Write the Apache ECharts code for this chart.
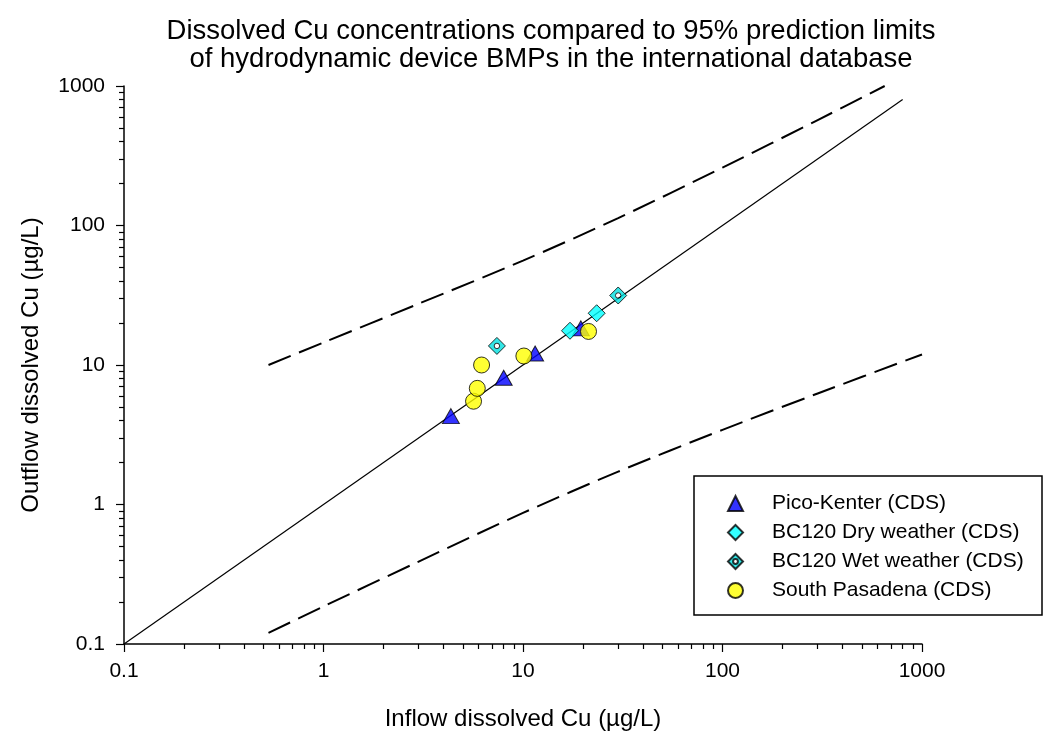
<!DOCTYPE html>
<html>
<head>
<meta charset="utf-8">
<script src="https://cdn.jsdelivr.net/npm/echarts@6/dist/echarts.min.js"></script>
<style>
  html, body { margin: 0; padding: 0; background: #ffffff; }
  #chart { width: 1050px; height: 738px; }
</style>
</head>
<body>
<div id="chart"></div>
<script>
// Title, axis names and tick labels
const titleLines = [
  'Dissolved Cu concentrations compared to 95% prediction limits',
  'of hydrodynamic device BMPs in the international database'
];
const xName = 'Inflow dissolved Cu (\u00b5g/L)';
const yName = 'Outflow dissolved Cu (\u00b5g/L)';
const majorTicks = [0.1, 1, 10, 100, 1000];
const tickLabels = ['0.1', '1', '10', '100', '1000'];

// Series names (legend order)
const seriesNames = [
  'Pico-Kenter (CDS)',
  'BC120 Dry weather (CDS)',
  'BC120 Wet weather (CDS)',
  'South Pasadena (CDS)'
];

// [inflow, outflow] dissolved Cu, ug/L
const picoKenter = [[4.35, 4.3], [8.0, 8.1], [11.5, 12.1], [19.5, 18.3]];
const bc120Dry = [[17.2, 17.6], [23.4, 23.5]];
const bc120Wet = [[7.4, 13.7], [30, 31.5]];
const southPasadena = [[5.65, 5.5], [5.9, 6.8], [6.2, 10.0], [10.1, 11.6], [21.3, 17.4]];

// Line of equality and 95% prediction limits
const equalityLine = [[0.1, 0.1], [800, 800]];
const upperLimit = [[0.53, 10], [1, 14.5], [3, 27.5], [10, 56], [30, 113], [100, 260], [300, 570], [650, 1000]];
const lowerLimit = [[0.53, 0.12], [1, 0.186], [3, 0.39], [10, 0.87], [30, 1.72], [100, 3.43], [300, 6.25], [1000, 11.9]];

const AXIS_MIN = 0.1;
const AXIS_MAX = 1000;
const FONT = "'Liberation Sans', Arial, Helvetica, sans-serif";
const wetSymbol = 'path://M10 0 L20 10 L10 20 L0 10 Z M10 6.8 A3.2 3.2 0 1 0 10 13.2 A3.2 3.2 0 1 0 10 6.8 Z';

function makeAxis(isX) {
  return {
    type: 'log',
    logBase: 10,
    min: AXIS_MIN,
    max: AXIS_MAX,
    splitLine: { show: false },
    axisLine: { show: true, lineStyle: { color: '#000', width: 1.5 } },
    axisTick: { show: true, length: 8, lineStyle: { color: '#000', width: 1.2 } },
    // 2..9 within each decade
    minorTick: { show: true, splitNumber: 9, length: 5, lineStyle: { color: '#000', width: 1.2 } },
    axisLabel: {
      show: true, color: '#000', fontSize: 21, fontFamily: FONT,
      margin: isX ? 17 : 19,
      formatter: function (v) {
        const i = majorTicks.findIndex(function (t) { return Math.abs(Math.log10(t) - Math.log10(v)) < 1e-6; });
        return i >= 0 ? tickLabels[i] : '';
      }
    },
    name: isX ? xName : yName,
    nameLocation: 'middle',
    nameGap: isX ? 63 : 81,
    nameTextStyle: { color: '#000', fontSize: 24, fontFamily: FONT }
  };
}

const chart = echarts.init(document.getElementById('chart'));

chart.setOption({
  animation: false,
  title: {
    text: titleLines.join('\n'),
    left: 546,
    top: 12,
    textAlign: 'center',
    textStyle: { color: '#000', fontSize: 27.5, fontWeight: 'normal', fontFamily: FONT, lineHeight: 28 }
  },
  grid: { left: 124, right: 128, top: 86, bottom: 94 },
  xAxis: makeAxis(true),
  yAxis: makeAxis(false),
  graphic: [{
    type: 'rect',
    z: 3,
    shape: { x: 694, y: 476, width: 348, height: 139 },
    style: { fill: '#ffffff', stroke: '#000000', lineWidth: 1.5 }
  }],
  legend: {
    data: seriesNames,
    orient: 'vertical',
    left: 727,
    top: 493,
    z: 5,
    padding: 0,
    itemWidth: 15,
    itemHeight: 15,
    itemGap: 8,
    textStyle: { color: '#000', fontSize: 21, fontFamily: FONT, lineHeight: 20, padding: [0, 0, 0, 24] }
  },
  series: [
    {
      name: 'equality', type: 'line', data: equalityLine, symbol: 'none',
      lineStyle: { color: '#000', width: 1.2 }, z: 1, silent: true
    },
    {
      name: 'upper limit', type: 'line', data: upperLimit, symbol: 'none', smooth: 0.3,
      lineStyle: { color: '#000', width: 2, type: [24, 9] }, z: 1, silent: true
    },
    {
      name: 'lower limit', type: 'line', data: lowerLimit, symbol: 'none', smooth: 0.3,
      lineStyle: { color: '#000', width: 2, type: [24, 9] }, z: 1, silent: true
    },
    {
      name: seriesNames[0], type: 'scatter', data: picoKenter,
      symbol: 'triangle', symbolSize: [17, 15],
      itemStyle: { color: '#0000ff', borderColor: '#000', borderWidth: 1 }, z: 2
    },
    {
      name: seriesNames[1], type: 'scatter', data: bc120Dry,
      symbol: 'diamond', symbolSize: 17,
      itemStyle: { color: '#00ffff', borderColor: '#000', borderWidth: 1 }, z: 2
    },
    {
      name: seriesNames[2], type: 'scatter', data: bc120Wet,
      symbol: wetSymbol, symbolSize: 17,
      itemStyle: { color: '#00e0e0', borderColor: '#000', borderWidth: 1 }, z: 2
    },
    {
      name: seriesNames[3], type: 'scatter', data: southPasadena,
      symbol: 'circle', symbolSize: 16,
      itemStyle: { color: '#ffff00', borderColor: '#000', borderWidth: 1 }, z: 2
    }
  ]
});
</script>
</body>
</html>
